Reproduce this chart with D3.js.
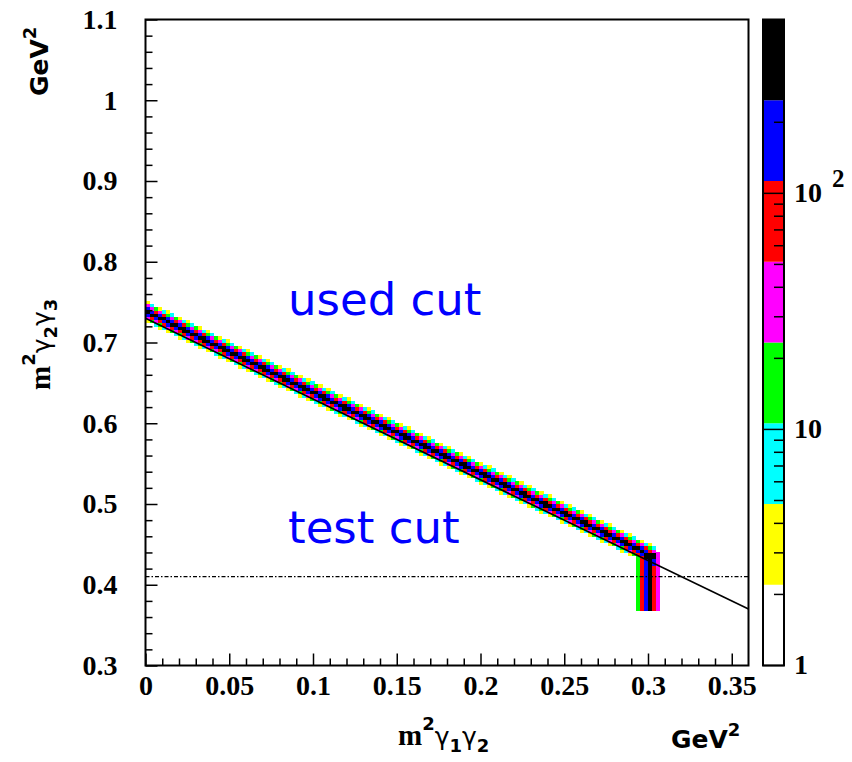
<!DOCTYPE html>
<html>
<head>
<meta charset="utf-8">
<script src="https://cdn.jsdelivr.net/npm/d3@7"></script>
<style>
body{ margin:0; background:#fff; }
.tick text{ font-family:"Liberation Serif","Times New Roman",serif; font-weight:bold; font-size:28px; fill:#000; }
.tick line{ stroke:#000; stroke-width:1.5; }
.title{ font-family:"DejaVu Sans",sans-serif; font-weight:bold; }
.note{ font-family:"DejaVu Sans",sans-serif; font-size:45px; fill:#0000ff; }
</style>
</head>
<body>
<svg id="chart" width="852" height="762"></svg>
<script>
(function(){
// histogram binning: [min, max, nbins]
var xBins = [0, 0.36, 150];
var yBins = [0.3, 1.1, 200];
var xTicks = [0, 0.05, 0.1, 0.15, 0.2, 0.25, 0.3, 0.35];
var yTicks = [0.3, 0.4, 0.5, 0.6, 0.7, 0.8, 0.9, 1, 1.1];

// kinematic band: centre line and counts across it (distance in y bins)
var bandX = [0, 0.3036];
var bandY = [0.739, 0.435];
var bandDist = [0, 0.5, 1, 1.5, 2, 2.5, 3, 3.5, 4];
var bandCount = [450, 260, 130, 60, 25, 9, 3, 1.2, 0];

// vertical stripe near m12 = 0.3
var stripeBin0 = 122;
var stripeCount = [15, 80, 200, 400, 110, 25];
var stripeY = [0.368, 0.436];

// cuts
var usedCutX = [0, 0.36], usedCutY = [0.73, 0.37];
var testCutY = 0.41;

// colour palette (bottom to top) and z range
var palette = ["#ffffff", "#ffff00", "#00ffff", "#00ff00", "#ff00ff", "#ff0000", "#0000ff", "#000000"];
var zRange = [1, 545];
var zTicksMajor = [1, 10, 100];
var zTicksMinor = [2, 3, 4, 5, 6, 7, 8, 9, 20, 30, 40, 50, 60, 70, 80, 90, 200, 300, 400, 500];

var L = 145.5, R = 748.5, T = 19.5, B = 665.5;
var CL = 763, CR = 784;

var svg = d3.select("#chart");
var x = d3.scaleLinear().domain([xBins[0], xBins[1]]).range([L, R]);
var y = d3.scaleLinear().domain([yBins[0], yBins[1]]).range([B, T]);
var z = d3.scaleLog().domain(zRange).range([B, T]);

var levels = palette.map(function(c, i){ return Math.pow(zRange[1], i / palette.length); });
var colorOf = d3.scaleThreshold().domain(levels.slice(1)).range(palette);

var xw = (xBins[1] - xBins[0]) / xBins[2];
var yw = (yBins[1] - yBins[0]) / yBins[2];
var bandLine = d3.scaleLinear().domain(bandX).range(bandY);
var profile = d3.scaleLinear().domain(bandDist).range(bandCount).clamp(true);

function fillCells(){
	var cells = {};
	function add(ix, iy, v){
		var k = ix + ":" + iy;
		cells[k] = (cells[k] || 0) + v;
	}
	var lastBin = Math.round(bandX[1] / xw);
	for (var ix = 0; ix < lastBin; ix++){
		var yc = bandLine((ix + 0.5) * xw);
		var ic = Math.floor((yc - yBins[0]) / yw);
		for (var iy = ic - 5; iy <= ic + 5; iy++){
			var d = Math.abs(yBins[0] + (iy + 0.5) * yw - yc) / yw;
			var v = profile(d);
			if (v > 0) add(ix, iy, v);
		}
	}
	var iy0 = Math.floor((stripeY[0] - yBins[0]) / yw), iy1 = Math.floor((stripeY[1] - yBins[0]) / yw);
	stripeCount.forEach(function(v, i){
		for (var iy = iy0; iy <= iy1; iy++) add(stripeBin0 + i, iy, v);
	});
	return Object.keys(cells).map(function(k){
		var p = k.split(":");
		return {ix: +p[0], iy: +p[1], v: cells[k]};
	});
}

var cells = fillCells().filter(function(d){ return d.v >= levels[1]; });
svg.append("g").selectAll("rect").data(cells).enter().append("rect")
		.attr("x", function(d){ return x(d.ix * xw); })
		.attr("y", function(d){ return y((d.iy + 1) * yw + yBins[0]); })
		.attr("width", x(xw) - x(0) + 0.3)
		.attr("height", y(yBins[0]) - y(yBins[0] + yw) + 0.3)
		.attr("fill", function(d){ return colorOf(Math.min(d.v, zRange[1])); })
		.attr("shape-rendering", "crispEdges");

// cut lines
svg.append("line")
		.attr("x1", x(usedCutX[0])).attr("y1", y(usedCutY[0]))
		.attr("x2", x(usedCutX[1])).attr("y2", y(usedCutY[1]))
		.attr("stroke", "#000").attr("stroke-width", 1.6);
svg.append("line")
		.attr("x1", x(xBins[0])).attr("y1", y(testCutY))
		.attr("x2", x(xBins[1])).attr("y2", y(testCutY))
		.attr("stroke", "#000").attr("stroke-width", 1.2)
		.attr("stroke-dasharray", "4,2,1.5,2");

// axes
function minorOf(ticks, step){
	var out = [];
	for (var i = 0; i < ticks.length - 1; i++)
		for (var j = 1; j < 5; j++) out.push(ticks[i] + j * step);
	return out;
}
var fmt = d3.format("~g");
svg.append("g").attr("transform", "translate(0," + B + ")")
		.call(d3.axisBottom(x).tickValues(minorOf(xTicks, 0.01)).tickSize(-7).tickFormat(""))
		.call(function(g){ g.select(".domain").remove(); });
svg.append("g").attr("transform", "translate(0," + B + ")")
		.call(d3.axisBottom(x).tickValues(xTicks).tickSize(-12).tickPadding(10).tickFormat(fmt))
		.call(function(g){ g.select(".domain").remove(); });
svg.append("g").attr("transform", "translate(" + L + ",0)")
		.call(d3.axisLeft(y).tickValues(minorOf(yTicks, 0.02)).tickSize(-7).tickFormat(""))
		.call(function(g){ g.select(".domain").remove(); });
svg.append("g").attr("transform", "translate(" + L + ",0)")
		.call(d3.axisLeft(y).tickValues(yTicks).tickSize(-12).tickPadding(28).tickFormat(fmt))
		.call(function(g){ g.select(".domain").remove(); });

svg.append("rect")
		.attr("x", L).attr("y", T).attr("width", R - L).attr("height", B - T)
		.attr("fill", "none").attr("stroke", "#000").attr("stroke-width", 2);

// colour bar
svg.append("g").selectAll("rect").data(palette).enter().append("rect")
		.attr("x", CL)
		.attr("y", function(c, i){ return z(i + 1 < levels.length ? levels[i + 1] : zRange[1]); })
		.attr("width", CR - CL)
		.attr("height", function(c, i){ return z(levels[i]) - z(i + 1 < levels.length ? levels[i + 1] : zRange[1]); })
		.attr("fill", function(c){ return c; });
svg.append("g").selectAll("line").data(zTicksMinor).enter().append("line")
		.attr("x1", CR - 10).attr("x2", CR)
		.attr("y1", function(d){ return z(d); }).attr("y2", function(d){ return z(d); })
		.attr("stroke", "#000").attr("stroke-width", 1.5);
svg.append("g").selectAll("line").data(zTicksMajor).enter().append("line")
		.attr("x1", CL).attr("x2", CR)
		.attr("y1", function(d){ return z(d); }).attr("y2", function(d){ return z(d); })
		.attr("stroke", "#000").attr("stroke-width", 1.5);
svg.append("rect")
		.attr("x", CL).attr("y", T).attr("width", CR - CL).attr("height", B - T)
		.attr("fill", "none").attr("stroke", "#000").attr("stroke-width", 2);

var zLab = svg.append("g")
		.style("font-family", "'Liberation Serif','Times New Roman',serif")
		.style("font-weight", "bold").style("font-size", "28px");
zLab.append("text").attr("x", 794).attr("y", z(1)).attr("dy", "0.32em").text("1");
zLab.append("text").attr("x", 794).attr("y", z(10)).attr("dy", "0.32em").text("10");
zLab.append("text").attr("x", 794).attr("y", z(100)).attr("dy", "0.32em").text("10");
zLab.append("text").attr("x", 832).attr("y", z(100) - 6).style("font-size", "25px").text("2");

// axis titles
function massTitle(sel, i, j){
	sel.append("tspan").style("font-family", "'Liberation Serif','Times New Roman',serif").style("font-size", "29px").text("m");
	sel.append("tspan").attr("dy", -15).style("font-size", "18px").text("2");
	sel.append("tspan").attr("dy", 15).style("font-size", "25px").style("font-weight", "normal").text("γ");
	sel.append("tspan").attr("dy", 7).style("font-size", "18px").text(i);
	sel.append("tspan").attr("dy", -7).style("font-size", "25px").style("font-weight", "normal").text("γ");
	sel.append("tspan").attr("dy", 7).style("font-size", "18px").text(j);
}
function gevTitle(sel){
	sel.append("tspan").style("font-size", "25px").text("GeV");
	sel.append("tspan").attr("dy", -12).style("font-size", "18px").text("2");
}
massTitle(svg.append("text").attr("class", "title").attr("x", 398).attr("y", 745), "1", "2");
gevTitle(svg.append("text").attr("class", "title").attr("x", 671).attr("y", 748));
massTitle(svg.append("text").attr("class", "title").attr("transform", "translate(50,390) rotate(-90)"), "2", "3");
gevTitle(svg.append("text").attr("class", "title").attr("transform", "translate(48,96) rotate(-90)"));

svg.append("text").attr("class", "note").attr("x", 288).attr("y", 315).text("used cut");
svg.append("text").attr("class", "note").attr("x", 288).attr("y", 543).text("test cut");
})();
</script>
</body>
</html>
